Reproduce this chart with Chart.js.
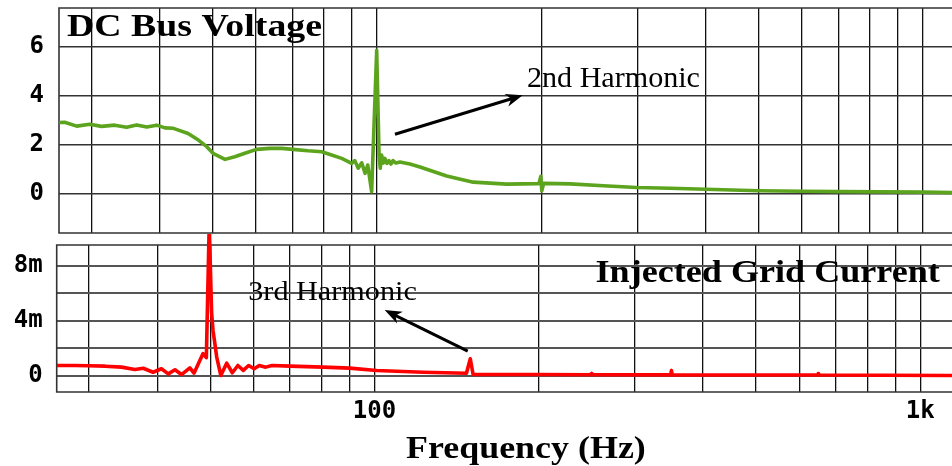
<!DOCTYPE html>
<html><head><meta charset="utf-8">
<script src="https://cdn.jsdelivr.net/npm/chart.js@4.4.1/dist/chart.umd.min.js"></script>
<style>
html,body{margin:0;padding:0;background:#fff;width:952px;height:466px;overflow:hidden;position:relative}
#c1{position:absolute;left:0;top:0}
#c2{position:absolute;left:0;top:234px}
</style></head><body>
<canvas id="c1" width="952" height="236"></canvas>
<canvas id="c2" width="952" height="232"></canvas>
<script>
// ---------- DATA ----------
const voltFreq = [26.2,26.8,28.2,29.8,31.3,33.1,34.8,36.3,37.9,39.5,40.9,42.4,45.1,47.1,48.8,50.1,52.7,54.9,57.3,60.2,63.7,66.9,70.2,74.8,79.2,82.6,86.2,88.6,89.9,91.1,92.4,93.8,95.1,96.2,97.8,99.9,100.9,101.4,102.0,102.7,103.4,104.3,105.2,106.1,107.0,108.3,110.2,112.5,114.9,119.9,134.2,150.1,172.8,198.0,199.6,200.4,202.0,225.7,259.8,299,344,400,500,600,700,1000,1130];
const voltVals = [2.92,2.93,2.77,2.85,2.76,2.81,2.72,2.82,2.73,2.81,2.70,2.68,2.47,2.20,1.93,1.66,1.41,1.52,1.66,1.82,1.86,1.86,1.82,1.76,1.72,1.59,1.45,1.32,1.25,1.36,1.05,1.27,0.84,1.18,0.09,5.87,1.60,1.05,1.59,1.26,1.45,1.25,1.36,1.22,1.36,1.26,1.30,1.26,1.22,1.10,0.73,0.48,0.40,0.42,0.72,0.12,0.43,0.41,0.33,0.26,0.23,0.19,0.13,0.11,0.09,0.07,0.05];

const currFreq = [26.2,28.2,29.9,32.1,34.4,36.4,37.7,39.3,40.7,41.9,43.1,44.3,45.9,46.7,48.5,49.2,49.8,50.3,50.6,51.4,52.3,53.6,54.9,56.2,57.5,58.8,60.2,61.5,63.2,64.9,70.0,80.5,90.1,100.9,122.8,147.4,149.8,151.6,162.6,198,249,250,251,349,350,351,649,650,651,1143];
const currVals = [0.73,0.73,0.71,0.68,0.61,0.44,0.53,0.24,0.49,0.12,0.42,0.07,0.56,0.17,1.59,1.30,11.0,4.6,3.3,1.34,0.0,0.9,0.2,0.73,0.37,0.73,0.49,0.73,0.61,0.73,0.68,0.61,0.54,0.37,0.24,0.17,1.22,0.07,0.07,0.07,0.06,0.15,0.06,0.05,0.37,0.05,0.04,0.14,0.04,0.0]; // mA

const xGridTicks = [30,40,50,60,70,80,90,100,200,300,400,500,600,700,800,900,1000];
const xTickLabels = {100:'100', 1000:'1k'};
const voltTicks = [0,2,4,6];
const currTicks = [0,2,4,6,8];
const currTickLabels = {0:'0', 4:'4m', 8:'8m'};

// annotation anchors (data units)
const arrow2nd = {from:[107.9,2.44], to:[184.9,4.03]};
const arrow3rd = {from:[148.2,1.78], to:[104.4,4.76]};

// ---------- helpers ----------
function fitText(ctx, text, weight, capH, inkW, x, y, align){
  ctx.font = `${weight} 100px "Liberation Serif"`;
  const hr = ctx.measureText('H').actualBoundingBoxAscent/100;
  const size = capH/hr;
  ctx.font = `${weight} ${size}px "Liberation Serif"`;
  ctx.textAlign='left'; ctx.textBaseline='alphabetic';
  const m = ctx.measureText(text);
  const ink = m.actualBoundingBoxLeft + m.actualBoundingBoxRight;
  const sx = inkW/ink;
  ctx.save(); ctx.translate(x,y); ctx.scale(sx,1);
  let x0 = m.actualBoundingBoxLeft;
  if(align==='right') x0 = -m.actualBoundingBoxRight;
  if(align==='center') x0 = (m.actualBoundingBoxLeft - m.actualBoundingBoxRight)/2;
  ctx.fillStyle='#000'; ctx.fillText(text,x0,0); ctx.restore();
}
function drawArrow(ctx,x1,y1,x2,y2){
  const a=Math.atan2(y2-y1,x2-x1), L=17, W=6.5;
  const bx=x2-L*Math.cos(a), by=y2-L*Math.sin(a);
  ctx.save(); ctx.strokeStyle='#000'; ctx.fillStyle='#000'; ctx.lineWidth=3;
  ctx.beginPath(); ctx.moveTo(x1,y1); ctx.lineTo(x2-10*Math.cos(a), y2-10*Math.sin(a)); ctx.stroke();
  ctx.beginPath(); ctx.moveTo(x2,y2);
  ctx.lineTo(bx+W*Math.sin(a), by-W*Math.cos(a));
  ctx.lineTo(x2-12*Math.cos(a), y2-12*Math.sin(a));
  ctx.lineTo(bx-W*Math.sin(a), by+W*Math.cos(a));
  ctx.closePath(); ctx.fill(); ctx.restore();
}
const framePlugin = {id:'frame', beforeDatasetsDraw(chart){
  const {ctx, chartArea:a}=chart; ctx.save(); ctx.strokeStyle='#333'; ctx.lineWidth=1.6;
  ctx.beginPath(); ctx.moveTo(a.right+2,a.top); ctx.lineTo(a.left,a.top); ctx.lineTo(a.left,a.bottom); ctx.lineTo(a.right+2,a.bottom); ctx.stroke(); ctx.restore();
}};
const tickFont = {family:'"DejaVu Sans Mono"', weight:'bold', size:24};
Chart.defaults.font.family = '"DejaVu Sans Mono"';

// ---------- top chart ----------
new Chart(document.getElementById('c1'), {
  type:'line',
  data:{datasets:[{data:voltFreq.map((f,i)=>({x:f,y:voltVals[i]})), borderColor:'#5ca41e', borderWidth:3.6, pointRadius:0, tension:0, borderJoinStyle:'round'}]},
  options:{responsive:false, animation:false, events:[],
    layout:{padding:{top:8,left:0,right:0,bottom:0}},
    plugins:{legend:{display:false}, tooltip:{enabled:false}},
    scales:{
      x:{type:'logarithmic', min:26.17, max:1130,
        afterBuildTicks:s=>{s.ticks=xGridTicks.map(v=>({value:v}));},
        afterFit:s=>{s.height=3; s.paddingLeft=0; s.paddingRight=0;},
        ticks:{display:false}, grid:{color:'#111', lineWidth:1.3, drawTicks:false}, border:{display:false}},
      y:{type:'linear', min:-1.6, max:7.6,
        afterBuildTicks:s=>{s.ticks=voltTicks.map(v=>({value:v}));},
        afterFit:s=>{s.width=59; s.paddingTop=0; s.paddingBottom=0;},
        ticks:{font:tickFont, color:'#000', padding:15, callback:v=>String(v)},
        grid:{color:'#333', lineWidth:1.5, drawTicks:false}, border:{display:false}}
    }
  },
  plugins:[framePlugin,{id:'ann1', afterDraw(chart){
    const ctx=chart.ctx, xs=chart.scales.x, ys=chart.scales.y, a=chart.chartArea;
    fitText(ctx,'DC Bus Voltage','bold',20.5,255,a.left+8,a.top+28,'left');
    drawArrow(ctx, xs.getPixelForValue(arrow2nd.from[0]), ys.getPixelForValue(arrow2nd.from[1]), xs.getPixelForValue(arrow2nd.to[0]), ys.getPixelForValue(arrow2nd.to[1]));
    fitText(ctx,'2nd Harmonic','normal',19,172,528,87,'left');
  }}]
});

// ---------- bottom chart ----------
new Chart(document.getElementById('c2'), {
  type:'line',
  data:{datasets:[{data:currFreq.map((f,i)=>({x:f,y:currVals[i]})), borderColor:'#ff0000', borderWidth:3.6, pointRadius:0, tension:0, borderJoinStyle:'round', clip:false}]},
  options:{responsive:false, animation:false, events:[],
    layout:{padding:{top:11,left:0,right:0,bottom:0}},
    plugins:{legend:{display:false}, tooltip:{enabled:false}},
    scales:{
      x:{type:'logarithmic', min:26.17, max:1143,
        afterBuildTicks:s=>{s.ticks=xGridTicks.map(v=>({value:v}));},
        afterFit:s=>{s.height=74; s.paddingLeft=0; s.paddingRight=0;},
        ticks:{font:tickFont, color:'#000', padding:5, autoSkip:false, maxRotation:0, callback:v=>xTickLabels[v]||''},
        grid:{color:'#111', lineWidth:1.3, drawTicks:false}, border:{display:false}},
      y:{type:'linear', min:-1.2, max:9.5,
        afterBuildTicks:s=>{s.ticks=currTicks.map(v=>({value:v}));},
        afterFit:s=>{s.width=56.7; s.paddingTop=0; s.paddingBottom=0;},
        ticks:{font:tickFont, color:'#000', padding:14, callback:v=>currTickLabels[v]||''},
        grid:{color:'#555', lineWidth:2, drawTicks:false}, border:{display:false}}
    }
  },
  plugins:[framePlugin,{id:'ann2', afterDraw(chart){
    const ctx=chart.ctx, xs=chart.scales.x, ys=chart.scales.y, a=chart.chartArea;
    fitText(ctx,'Injected Grid Current','bold',20,344,940.7,a.top+36.7,'right');
    fitText(ctx,'3rd Harmonic','normal',18.3,167,249.3,66,'left');
    drawArrow(ctx, xs.getPixelForValue(arrow3rd.from[0]), ys.getPixelForValue(arrow3rd.from[1]), xs.getPixelForValue(arrow3rd.to[0]), ys.getPixelForValue(arrow3rd.to[1]));
    fitText(ctx,'Frequency (Hz)','bold',21,239,525.5,223.7,'center');
  }}]
});
</script>
</body></html>
